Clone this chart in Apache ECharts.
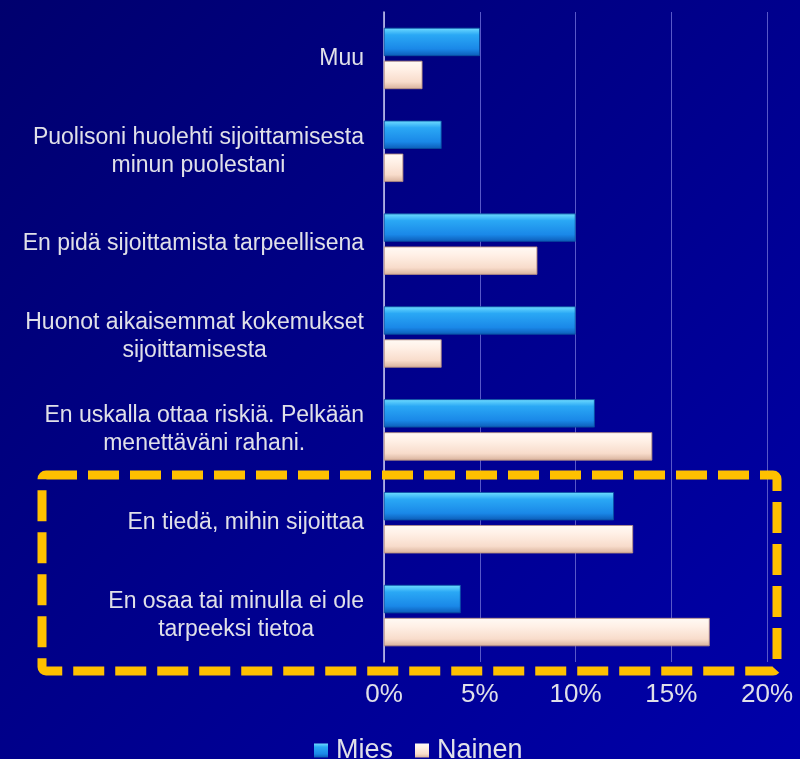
<!DOCTYPE HTML>
<html>
	<head>
		<meta http-equiv="Content-type" content="text/html; charset=UTF-8" />
		<script type="text/javascript" src="https://cdn.jsdelivr.net/npm/echarts@6/dist/echarts.min.js"></script>
		<style>
			html, body { margin: 0; padding: 0; }
		</style>
		<script type="text/javascript">
			// kategoriat ylhäältä alas
			var categories = [
				'Muu',
				'Puolisoni huolehti sijoittamisesta\nminun puolestani',
				'En pidä sijoittamista tarpeellisena',
				'Huonot aikaisemmat kokemukset\nsijoittamisesta',
				'En uskalla ottaa riskiä. Pelkään\nmenettäväni rahani.',
				'En tiedä, mihin sijoittaa',
				'En osaa tai minulla ei ole\ntarpeeksi tietoa'
			];
			var mies = [5, 3, 10, 10, 11, 12, 4];
			var nainen = [2, 1, 8, 3, 14, 13, 17];
			var xTicks = [0, 5, 10, 15, 20];

			var blueBar = new echarts.graphic.LinearGradient(0, 0, 0, 1, [
				{offset: 0, color: '#6fdcff'},
				{offset: 0.25, color: '#2aa8f5'},
				{offset: 0.75, color: '#1a88e8'},
				{offset: 1, color: '#0c5cb8'}
			]);
			var peachBar = new echarts.graphic.LinearGradient(0, 0, 0, 1, [
				{offset: 0, color: '#fffaf5'},
				{offset: 0.3, color: '#fff0e6'},
				{offset: 0.75, color: '#f8dccb'},
				{offset: 1, color: '#d8b29c'}
			]);

			var option = {
				backgroundColor: new echarts.graphic.LinearGradient(0, 0, 1, 1, [
					{offset: 0, color: '#00006e'},
					{offset: 1, color: '#0000aa'}
				]),
				textStyle: { fontFamily: 'Liberation Sans' },
				grid: { left: 384, right: 33, top: 12, bottom: 97 },
				legend: {
					top: 732,
					left: 309,
					itemWidth: 14,
					itemHeight: 14,
					itemGap: 22,
					icon: 'rect',
					textStyle: { color: '#e0e0e8', fontSize: 27, fontFamily: 'Liberation Sans', padding: [0, 0, 0, 3] },
					data: [
						{name: 'Mies', itemStyle: {color: blueBar, borderWidth: 0}},
						{name: 'Nainen', itemStyle: {color: peachBar, borderWidth: 0}}
					]
				},
				xAxis: {
					type: 'value',
					min: 0,
					max: 20,
					interval: 5,
					axisLine: { show: false },
					axisTick: { show: false },
					splitLine: { lineStyle: { color: '#5858c8', width: 1 } },
					axisLabel: {
						color: '#e0e0e8',
						fontSize: 26,
						margin: 20,
						formatter: function (v) { return xTicks.indexOf(v) >= 0 ? v + '%' : ''; }
					}
				},
				yAxis: {
					type: 'category',
					inverse: true,
					data: categories,
					axisLine: { lineStyle: { color: '#c8c8ec', width: 1.5 } },
					axisTick: { show: false },
					axisLabel: {
						margin: 20,
						color: '#e0e0e8',
						fontSize: 23,
						lineHeight: 28,
						formatter: function (v) {
							return v.split('\n').map(function (s) { return '{c|' + s + '}'; }).join('\n');
						},
						rich: {
							c: { align: 'center', color: '#e0e0e8', fontSize: 23, lineHeight: 28, fontFamily: 'Liberation Sans' }
						}
					}
				},
				series: [
					{
						name: 'Mies',
						type: 'bar',
						data: mies,
						barWidth: 28,
						barGap: '18%',
						itemStyle: { color: blueBar, borderColor: '#0a50a0', borderWidth: 0.5 }
					},
					{
						name: 'Nainen',
						type: 'bar',
						data: nainen,
						barWidth: 28,
						itemStyle: { color: peachBar, borderColor: '#b89080', borderWidth: 0.5 }
					}
				],
				graphic: [{
					type: 'rect',
					shape: { x: 42, y: 475, width: 735, height: 196, r: 4 },
					style: { fill: 'none', stroke: '#ffc000', lineWidth: 9, lineDash: [31, 11] },
					z: 10
				}]
			};
			window.onload = function () {
				var myChart = echarts.init(document.getElementById('div_1'));
				myChart.setOption(option);
			};
		</script>
	</head>
	<body>
		<div id="div_1" style="width: 800px;height:759px;"></div>
	</body>
</html>
